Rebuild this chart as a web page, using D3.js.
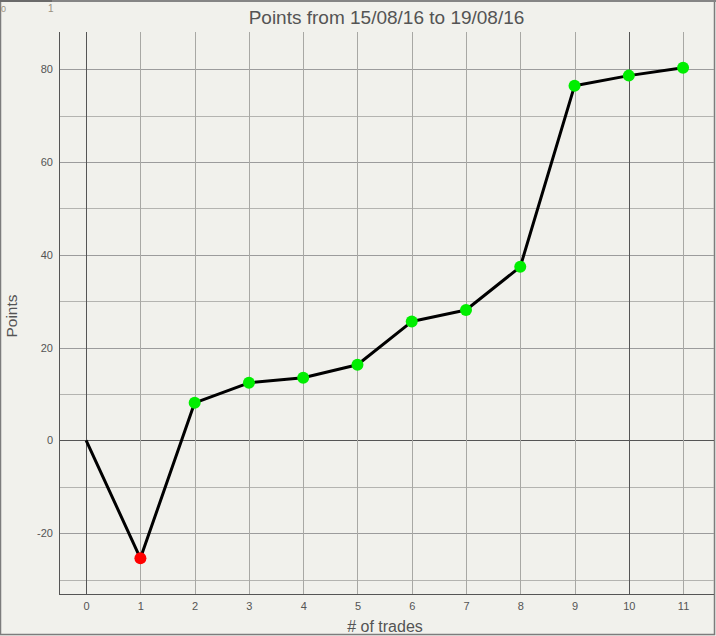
<!DOCTYPE html>
<html>
<head>
<meta charset="utf-8">
<script src="https://cdn.jsdelivr.net/npm/d3@7"></script>
<style>
  html, body { margin: 0; padding: 0; background: #f1f1ec; }
  svg { display: block; }
</style>
</head>
<body>
<svg id="chart" width="716" height="636"></svg>
<script>
// ---- data ----
const trades = [0, 1, 2, 3, 4, 5, 6, 7, 8, 9, 10, 11];
const points = [0, -25.4, 8.1, 12.4, 13.5, 16.3, 25.6, 28.1, 37.4, 76.4, 78.6, 80.3];
const xTickLabels = ["0", "1", "2", "3", "4", "5", "6", "7", "8", "9", "10", "11"];
const yTickValues = [-20, 0, 20, 40, 60, 80];
const yGridValues = [-30, -20, -10, 0, 10, 20, 30, 40, 50, 60, 70, 80];
const titleText = "Points from 15/08/16 to 19/08/16";
const xLabel = "# of trades";
const yLabel = "Points";

const W = 716, H = 636;
const plot = { left: 59, right: 714, top: 32, bottom: 594 };
const FONT = "'Liberation Sans', Arial, sans-serif";
const TXT = "#545454";

const svg = d3.select("#chart");

// background + outer frame
svg.append("rect").attr("x", 0.5).attr("y", 0.5).attr("width", W - 2).attr("height", H - 2)
  .attr("fill", "#f1f1ec").attr("stroke", "#7c7c7c").attr("stroke-width", 1.5);
svg.append("line").attr("x1", 0).attr("x2", W).attr("y1", 1).attr("y2", 1)
  .attr("stroke", "#858585").attr("stroke-width", 2);
svg.append("line").attr("x1", 0).attr("x2", 52).attr("y1", 1).attr("y2", 1)
  .attr("stroke", "#6a6a6a").attr("stroke-width", 2);
// remnant labels top-left
svg.append("text").attr("x", 1).attr("y", 12).text("0")
  .attr("font-family", FONT).attr("font-size", 9).attr("fill", "#9a9080");
svg.append("text").attr("x", 48).attr("y", 12).text("1")
  .attr("font-family", FONT).attr("font-size", 10).attr("fill", "#9a9080");

const x = d3.scaleLinear().domain([-0.5, 11.57]).range([plot.left, plot.right]);
const y = d3.scaleLinear().domain([-33.1, 88]).range([plot.bottom, plot.top]);

// horizontal grid
const gY = svg.append("g");
gY.selectAll("line").data(yGridValues).join("line")
  .attr("x1", plot.left).attr("x2", plot.right)
  .attr("y1", d => Math.round(y(d)) + 0.5).attr("y2", d => Math.round(y(d)) + 0.5)
  .attr("stroke", d => d === 0 ? "#555" : (d % 20 === 0 ? "#9c9c9c" : "#b4b4b0"))
  .attr("stroke-width", 1);

// vertical grid
const gX = svg.append("g");
gX.selectAll("line").data(trades).join("line")
  .attr("y1", plot.top).attr("y2", plot.bottom)
  .attr("x1", d => Math.round(x(d)) + 0.5).attr("x2", d => Math.round(x(d)) + 0.5)
  .attr("stroke", d => (d % 10 === 0) ? "#555" : "#a8a8a4")
  .attr("stroke-width", 1);

// axes via d3
const xAxis = d3.axisBottom(x).tickValues(trades).tickFormat((d, i) => xTickLabels[i]).tickSize(0).tickPadding(8);
const yAxis = d3.axisLeft(y).tickValues(yTickValues).tickFormat(d => String(d)).tickSize(0).tickPadding(6);

const ax = svg.append("g").attr("transform", `translate(0,${plot.bottom})`).call(xAxis);
const ay = svg.append("g").attr("transform", `translate(${plot.left},0)`).call(yAxis);
[ax, ay].forEach(g => {
  g.select(".domain").remove();
  g.selectAll("text").attr("font-family", FONT).attr("font-size", 11).attr("fill", TXT);
});

// axis lines
svg.append("line").attr("x1", plot.left + 0.5).attr("x2", plot.left + 0.5)
  .attr("y1", plot.top).attr("y2", plot.bottom + 0.5).attr("stroke", "#555");
svg.append("line").attr("x1", plot.left).attr("x2", plot.right)
  .attr("y1", plot.bottom + 0.5).attr("y2", plot.bottom + 0.5).attr("stroke", "#555");

// line
const line = d3.line().x((d, i) => x(trades[i])).y(d => y(d));
svg.append("path").datum(points).attr("d", line)
  .attr("fill", "none").attr("stroke", "#000").attr("stroke-width", 3)
  .attr("stroke-linejoin", "round");

// markers (skip the starting point)
svg.append("g").selectAll("circle")
  .data(points.map((v, i) => ({ i, v })).filter(d => d.i > 0)).join("circle")
  .attr("cx", d => x(trades[d.i])).attr("cy", d => y(d.v)).attr("r", 6)
  .attr("fill", d => d.v >= points[d.i - 1] ? "#00ee00" : "#ff0000");

// title
svg.append("text").attr("x", (plot.left + plot.right) / 2).attr("y", 24)
  .attr("text-anchor", "middle").attr("font-family", FONT).attr("font-size", 19)
  .attr("fill", TXT).text(titleText);

// axis titles
svg.append("text").attr("x", 385).attr("y", 632)
  .attr("text-anchor", "middle").attr("font-family", FONT).attr("font-size", 16)
  .attr("fill", TXT).text(xLabel);
svg.append("text").attr("transform", "translate(17,316) rotate(-90)")
  .attr("text-anchor", "middle").attr("font-family", FONT).attr("font-size", 15.5)
  .attr("fill", TXT).text(yLabel);
</script>
</body>
</html>
